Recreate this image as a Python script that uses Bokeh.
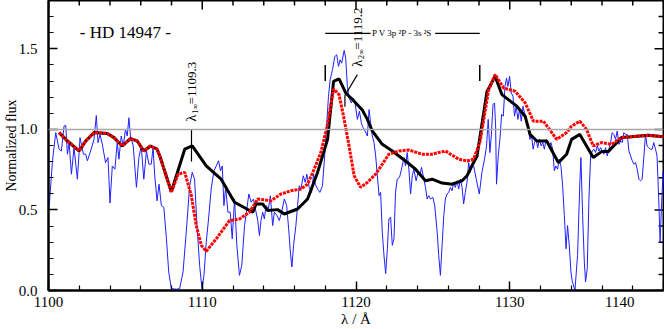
import math
from bokeh.plotting import figure
from bokeh.models import FixedTicker, PrintfTickFormatter, Span, Label
from bokeh.embed import file_html
from bokeh.resources import INLINE

# ---------------- data ----------------
obs_wave = [1100.05, 1100.26, 1100.47, 1100.69, 1100.84, 1101.01, 1101.12, 1101.23, 1101.34, 1101.49,
            1101.66, 1101.88, 1102.05, 1102.27, 1102.42, 1102.53, 1102.74, 1102.96, 1103.11, 1103.22,
            1103.35, 1103.5, 1103.71, 1103.87, 1104.0, 1104.15, 1104.32, 1104.47, 1104.58, 1104.73,
            1104.86, 1105.01, 1105.12, 1105.23, 1105.33, 1105.51, 1105.72, 1105.88, 1106.03, 1106.2,
            1106.37, 1106.53, 1106.68, 1106.8, 1106.91, 1107.06, 1107.19, 1107.34, 1107.5, 1107.67,
            1107.82, 1107.99, 1108.32, 1108.53, 1108.75, 1108.96, 1109.18, 1109.35, 1109.5, 1109.66,
            1109.83, 1109.98, 1110.11, 1110.26, 1110.41, 1110.58, 1110.76, 1110.91, 1111.06, 1111.19,
            1111.3, 1111.41, 1111.52, 1111.67, 1111.82, 1111.95, 1112.1, 1112.25, 1112.42, 1112.57,
            1112.75, 1112.9, 1113.03, 1113.18, 1113.33, 1113.5, 1113.61, 1113.72, 1113.82, 1113.93,
            1114.04, 1114.15, 1114.3, 1114.43, 1114.58, 1114.69, 1114.86, 1115.01, 1115.16, 1115.34,
            1115.49, 1115.62, 1115.73, 1115.83, 1115.94, 1116.09, 1116.2, 1116.31, 1116.42, 1116.57,
            1116.7, 1116.8, 1116.96, 1117.11, 1117.24, 1117.35, 1117.5, 1117.65, 1117.82, 1117.97,
            1118.1, 1118.21, 1118.32, 1118.47, 1118.62, 1118.75, 1118.86, 1118.97, 1119.07, 1119.23,
            1119.33, 1119.44, 1119.55, 1119.7, 1119.83, 1119.94, 1120.09, 1120.22, 1120.35, 1120.41,
            1120.59, 1120.74, 1120.85, 1120.95, 1121.06, 1121.17, 1121.28, 1121.39, 1121.5, 1121.6,
            1121.71, 1121.82, 1121.93, 1122.04, 1122.14, 1122.25, 1122.36, 1122.47, 1122.57, 1122.68,
            1122.83, 1122.96, 1123.12, 1123.22, 1123.33, 1123.44, 1123.55, 1123.66, 1123.76, 1123.91,
            1124.04, 1124.15, 1124.26, 1124.37, 1124.52, 1124.63, 1124.73, 1124.84, 1125.0, 1125.12,
            1125.28, 1125.38, 1125.49, 1125.6, 1125.71, 1125.81, 1125.92, 1126.03, 1126.14, 1126.25,
            1126.35, 1126.46, 1126.57, 1126.68, 1126.79, 1126.9, 1127.0, 1127.11, 1127.22, 1127.33,
            1127.43, 1127.54, 1127.65, 1127.82, 1128.02, 1128.19, 1128.36, 1128.49, 1128.6, 1128.71,
            1128.8, 1128.91, 1129.01, 1129.08, 1129.14, 1129.25, 1129.36, 1129.47, 1129.58, 1129.69,
            1129.79, 1129.88, 1129.99, 1130.1, 1130.21, 1130.31, 1130.42, 1130.53, 1130.64, 1130.75,
            1130.86, 1130.96, 1131.07, 1131.2, 1131.31, 1131.41, 1131.52, 1131.61, 1131.72, 1131.82,
            1131.93, 1132.04, 1132.15, 1132.25, 1132.36, 1132.47, 1132.58, 1132.68, 1132.79, 1132.9,
            1133.0, 1133.11, 1133.22, 1133.33, 1133.44, 1133.55, 1133.66, 1133.76, 1133.87, 1133.98,
            1134.06, 1134.24, 1134.41, 1134.56, 1134.63, 1134.74, 1134.85, 1134.93, 1135.04, 1135.15,
            1135.26, 1135.37, 1135.47, 1135.58, 1135.69, 1135.8, 1135.91, 1136.01, 1136.12, 1136.23,
            1136.34, 1136.45, 1136.56, 1136.66, 1136.77, 1136.88, 1136.99, 1137.1, 1137.21, 1137.32,
            1137.42, 1137.53, 1137.64, 1137.75, 1137.86, 1137.97, 1138.08, 1138.18, 1138.29, 1138.4,
            1138.5, 1138.61, 1138.72, 1138.83, 1138.93, 1139.04, 1139.15, 1139.26, 1139.37, 1139.48,
            1139.58, 1139.69, 1139.78, 1139.88, 1139.97, 1140.06]
obs_flux = [0.527, 0.805, 0.98, 0.877, 0.866, 1.02, 1.025, 0.846, 0.918, 0.722,
            0.887, 0.691, 0.949, 0.846, 0.846, 0.805, 0.866, 0.938, 1.086, 0.918,
            0.969, 0.907, 0.794, 0.825, 0.543, 0.773, 0.753, 0.918, 0.815, 0.959,
            0.897, 1.0, 0.959, 1.072, 0.959, 0.897, 0.64, 0.825, 0.897, 0.691,
            0.866, 0.784, 0.784, 0.887, 0.712, 0.557, 0.66, 0.527, 0.517, 0.321,
            0.115, 0.012, 0.008, 0.012, 0.115, 0.362, 0.65, 0.733, 0.691, 0.403,
            0.156, 0.012, 0.094, 0.3, 0.444, 0.63, 0.743, 0.773, 0.805, 0.743,
            0.773, 0.527, 0.64, 0.486, 0.486, 0.321, 0.568, 0.28, 0.094, 0.156,
            0.403, 0.506, 0.599, 0.548, 0.568, 0.486, 0.434, 0.341, 0.434, 0.486,
            0.444, 0.527, 0.506, 0.588, 0.403, 0.486, 0.465, 0.434, 0.486, 0.568,
            0.527, 0.383, 0.239, 0.146, 0.28, 0.403, 0.527, 0.65, 0.63, 0.712,
            0.671, 0.722, 0.64, 0.609, 0.722, 0.66, 0.63, 0.609, 0.65, 0.846,
            1.041, 1.206, 1.309, 1.37, 1.452, 1.463, 1.391, 1.432, 1.411, 1.49,
            1.442, 1.267, 1.195, 1.164, 1.195, 1.164, 1.062, 1.113, 1.041, 1.02,
            0.99, 0.959, 1.123, 1.041, 0.959, 0.918, 0.835, 0.712, 0.589, 0.609,
            0.362, 0.218, 0.105, 0.259, 0.444, 0.455, 0.28, 0.321, 0.609, 0.691,
            0.702, 0.753, 0.825, 0.773, 0.856, 0.753, 0.599, 0.712, 0.753, 0.681,
            0.733, 0.712, 0.764, 0.712, 0.64, 0.568, 0.589, 0.568, 0.578, 0.527,
            0.362, 0.218, 0.094, 0.28, 0.465, 0.568, 0.599, 0.609, 0.64, 0.619,
            0.671, 0.64, 0.681, 0.63, 0.691, 0.64, 0.537, 0.609, 0.671, 0.794,
            0.733, 0.784, 0.774, 0.691, 0.599, 0.733, 0.815, 0.897, 1.062, 0.856,
            0.959, 1.154, 1.164, 1.02, 0.66, 0.835, 0.938, 1.093, 1.082, 1.267,
            1.319, 1.267, 1.329, 1.226, 1.206, 1.082, 1.144, 1.062, 1.123, 1.051,
            1.144, 1.103, 1.062, 1.02, 0.938, 0.969, 0.877, 0.918, 0.938, 0.887,
            0.938, 0.897, 0.918, 0.877, 0.938, 0.928, 0.897, 0.918, 0.877, 0.743,
            0.773, 0.753, 0.815, 0.773, 0.65, 0.465, 0.259, 0.403, 0.28, 0.115,
            0.06, 0.002, 0.218, 0.671, 0.825, 0.465, 0.177, 0.053, 0.136, 0.568,
            0.835, 0.866, 0.877, 0.856, 0.897, 0.866, 0.887, 0.866, 0.846, 0.887,
            0.835, 0.877, 0.918, 0.98, 0.969, 0.938, 0.99, 0.907, 0.928, 0.918,
            0.98, 0.969, 0.969, 0.866, 0.835, 0.805, 0.784, 0.794, 0.753, 0.691,
            0.681, 0.691, 0.825, 0.969, 0.897, 0.887, 0.877, 0.877, 0.918, 0.877,
            0.835, 0.568, 0.3, 0.548, 0.733, 0.609]

model1_wave = [1100.69, 1101.23, 1101.99, 1102.42, 1102.96, 1103.82, 1104.26, 1104.8, 1105.33, 1105.77,
               1106.2, 1106.63, 1107.06, 1107.24, 1107.99, 1108.86, 1109.35, 1110.26, 1111.23, 1112.1,
               1113.29, 1113.5, 1113.93, 1114.26, 1114.9, 1115.34, 1116.2, 1116.85, 1117.5, 1118.15,
               1118.54, 1118.9, 1119.33, 1119.88, 1120.41, 1120.74, 1121.06, 1121.71, 1122.36, 1123.22,
               1123.87, 1124.52, 1124.95, 1125.6, 1126.25, 1126.9, 1127.22, 1127.54, 1127.87, 1128.52,
               1129.05, 1129.49, 1130.46, 1131.0, 1131.32, 1131.76, 1132.4, 1133.16, 1133.7, 1134.02,
               1134.56, 1135.43, 1135.97, 1136.4, 1137.27, 1137.91, 1139.0, 1140.0]
model1_flux = [0.98, 0.928, 0.866, 0.928, 0.98, 0.975, 0.949, 0.897, 0.943, 0.928,
               0.866, 0.897, 0.877, 0.835, 0.613, 0.877, 0.897, 0.773, 0.691, 0.548,
               0.486, 0.537, 0.537, 0.496, 0.502, 0.475, 0.506, 0.568, 0.733, 0.938,
               1.298, 1.313, 1.226, 1.175, 1.12, 1.062, 0.99, 0.907, 0.866, 0.804,
               0.753, 0.681, 0.691, 0.667, 0.66, 0.681, 0.712, 0.774, 0.835, 1.236,
               1.329, 1.216, 1.144, 1.082, 0.969, 0.928, 0.928, 0.794, 0.846, 0.938,
               0.969, 0.825, 0.862, 0.862, 0.949, 0.954, 0.963, 0.955]

model2_wave = [1100.69, 1101.23, 1101.99, 1102.42, 1102.96, 1103.82, 1104.26, 1104.8, 1105.33, 1105.77,
               1106.2, 1106.63, 1107.06, 1107.24, 1107.99, 1108.43, 1108.86, 1109.29, 1109.61, 1109.94,
               1110.26, 1110.91, 1111.77, 1112.42, 1113.07, 1113.61, 1114.47, 1115.12, 1115.77, 1116.42,
               1116.85, 1117.28, 1117.71, 1118.15, 1118.54, 1118.9, 1119.23, 1119.55, 1119.88, 1120.3,
               1120.74, 1121.28, 1122.14, 1122.79, 1123.44, 1124.3, 1124.95, 1125.81, 1126.68, 1127.22,
               1127.65, 1128.08, 1128.63, 1129.05, 1129.6, 1130.35, 1131.0, 1131.54, 1132.19, 1133.05,
               1133.7, 1134.02, 1134.56, 1134.99, 1135.43, 1135.97, 1136.62, 1137.27, 1137.91, 1139.0,
               1140.0]
model2_flux = [0.98, 0.928, 0.866, 0.928, 0.98, 0.975, 0.949, 0.897, 0.943, 0.928,
               0.866, 0.897, 0.877, 0.835, 0.609, 0.722, 0.733, 0.589, 0.403, 0.28,
               0.243, 0.321, 0.434, 0.444, 0.486, 0.568, 0.557, 0.599, 0.619, 0.63,
               0.66, 0.753, 0.856, 1.031, 1.251, 1.216, 1.062, 0.897, 0.712, 0.64,
               0.671, 0.722, 0.846, 0.866, 0.872, 0.846, 0.846, 0.866, 0.815, 0.804,
               0.815, 0.928, 1.247, 1.34, 1.257, 1.237, 1.165, 1.051, 1.051, 0.938,
               0.98, 1.02, 1.051, 1.0, 0.897, 0.918, 0.907, 0.949, 0.954, 0.963,
               0.955]

x_major = [1100, 1110, 1120, 1130, 1140]
x_minor = [1102, 1104, 1106, 1108, 1112, 1114, 1116, 1118, 1122, 1124, 1126, 1128,
           1132, 1134, 1136, 1138]
y_major = [0.0, 0.5, 1.0, 1.5]
y_minor = [0.1, 0.2, 0.3, 0.4, 0.6, 0.7, 0.8, 0.9, 1.1, 1.2, 1.3, 1.4, 1.6, 1.7]

# annotation anchors
star_label = "- HD 14947 -"
star_pos = (1105.0, 1.60)
lam1_x = 1109.3
lam1_line_y = (0.80, 1.0)
lam1_parts_y = (1.049, 1.097, 1.155)        # "λ", subscript, "=1109.3"
lam2_x = 1120.12
lam2_parts_y = (1.389, 1.437, 1.495)
lam2_leader_x = [1120.09, 1119.28, 1119.28]
lam2_leader_y = [1.34, 1.21, 1.14]
pv_text = "P V 3p \u00b2P - 3s \u00b2S"
pv_text_pos = (1123.0, 1.596)
pv_line_x0 = [1118.0, 1125.15]
pv_line_x1 = [1120.95, 1128.05]
pv_line_y = 1.596
pv_tick_x = [1118.0, 1128.05]
pv_tick_y = (1.30, 1.40)

FONT = "Liberation Serif"
X0, X1, Y0, Y1 = 1100, 1140, 0.0, 1.8

p = figure(width=664, height=329, x_range=(X0, X1), y_range=(Y0, Y1),
           output_backend="svg", toolbar_location=None,
           min_border_left=45, min_border_right=1, min_border_top=0, min_border_bottom=37)
p.grid.visible = False
p.outline_line_color = "black"
p.outline_line_width = 2
p.background_fill_color = "white"
p.border_fill_color = "white"

def style_axis(ax):
    ax.axis_line_width = 2
    ax.axis_line_color = "black"
    ax.major_tick_in = 9
    ax.major_tick_out = 0
    ax.minor_tick_in = 5
    ax.minor_tick_out = 0
    ax.major_tick_line_width = 1.5
    ax.minor_tick_line_width = 1.2
    ax.major_tick_line_color = "black"
    ax.minor_tick_line_color = "black"
    ax.major_label_text_font = FONT
    ax.major_label_text_font_size = "15px"
    ax.major_label_text_color = "black"
    ax.axis_label_text_font = FONT
    ax.axis_label_text_font_style = "normal"
    ax.axis_label_text_color = "black"

xa = p.xaxis[0]
xa.ticker = FixedTicker(ticks=x_major, minor_ticks=x_minor)
xa.major_label_overrides = {1140: "1140" + "\u00a0" * 8}
style_axis(xa)
xa.major_label_standoff = 3
xa.axis_label = "λ / Å"
xa.axis_label_text_font_size = "15px"
xa.axis_label_standoff = -2

ya = p.yaxis[0]
ya.ticker = FixedTicker(ticks=y_major, minor_ticks=y_minor)
ya.formatter = PrintfTickFormatter(format="%.1f")
style_axis(ya)
ya.major_label_standoff = 11
ya.axis_label = "Normalized flux"
ya.axis_label_text_font_size = "14px"
ya.axis_label_standoff = -3

# inward ticks on the top and right frame edges, from the same tick lists
px_x = (X1 - X0) / 618.0
px_y = (Y1 - Y0) / 292.0
top_x = x_major + x_minor
top_len = [9 * px_y] * len(x_major) + [5 * px_y] * len(x_minor)
p.segment(x0=top_x, y0=[Y1] * len(top_x), x1=top_x, y1=[Y1 - l for l in top_len],
          line_color="black", line_width=1.5)
right_y = y_major + y_minor
right_len = [9 * px_x] * len(y_major) + [5 * px_x] * len(y_minor)
p.segment(x0=[X1] * len(right_y), y0=right_y, x1=[X1 - l for l in right_len], y1=right_y,
          line_color="black", line_width=1.5)

p.add_layout(Span(location=1.0, dimension="width", line_color="#a8a8a8", line_width=1.5))

p.line(obs_wave, obs_flux, line_color="#2020ff", line_width=1)
p.line(model1_wave, model1_flux, line_color="black", line_width=3)
p.line(model2_wave, model2_flux, line_color="#ff0000", line_width=3, line_dash="3 1")

# annotations
p.add_layout(Label(x=star_pos[0], y=star_pos[1], text=star_label, text_align="center",
                   text_baseline="middle", text_font=FONT, text_font_size="17px", text_color="black"))
p.segment(x0=[lam1_x], y0=[lam1_line_y[0]], x1=[lam1_x], y1=[lam1_line_y[1]],
          line_color="black", line_width=1.2)

def lam_label(x, ys, sub, rest):
    kw = dict(angle=math.pi / 2, text_align="left", text_baseline="middle",
              text_font=FONT, text_color="black")
    p.add_layout(Label(x=x, y=ys[0], text="λ", text_font_size="14px", **kw))
    p.add_layout(Label(x=x, y=ys[1], text=sub, text_font_size="8px", x_offset=4, **kw))
    p.add_layout(Label(x=x, y=ys[2], text=rest, text_font_size="13px", **kw))

lam_label(lam1_x, lam1_parts_y, "1\u221e", "=1109.3")
lam_label(lam2_x, lam2_parts_y, "2\u221e", "=1119.2")
p.line(lam2_leader_x, lam2_leader_y, line_color="black", line_width=1.2)

p.segment(x0=pv_line_x0, y0=[pv_line_y] * 2, x1=pv_line_x1, y1=[pv_line_y] * 2,
          line_color="black", line_width=1.2)
p.segment(x0=pv_tick_x, y0=[pv_tick_y[0]] * 2, x1=pv_tick_x, y1=[pv_tick_y[1]] * 2,
          line_color="black", line_width=1.5)
p.add_layout(Label(x=pv_text_pos[0], y=pv_text_pos[1], text=pv_text, text_align="center",
                   text_baseline="middle", text_font=FONT, text_font_size="9px", text_color="black"))

open("out.html", "w").write(file_html(p, INLINE))
